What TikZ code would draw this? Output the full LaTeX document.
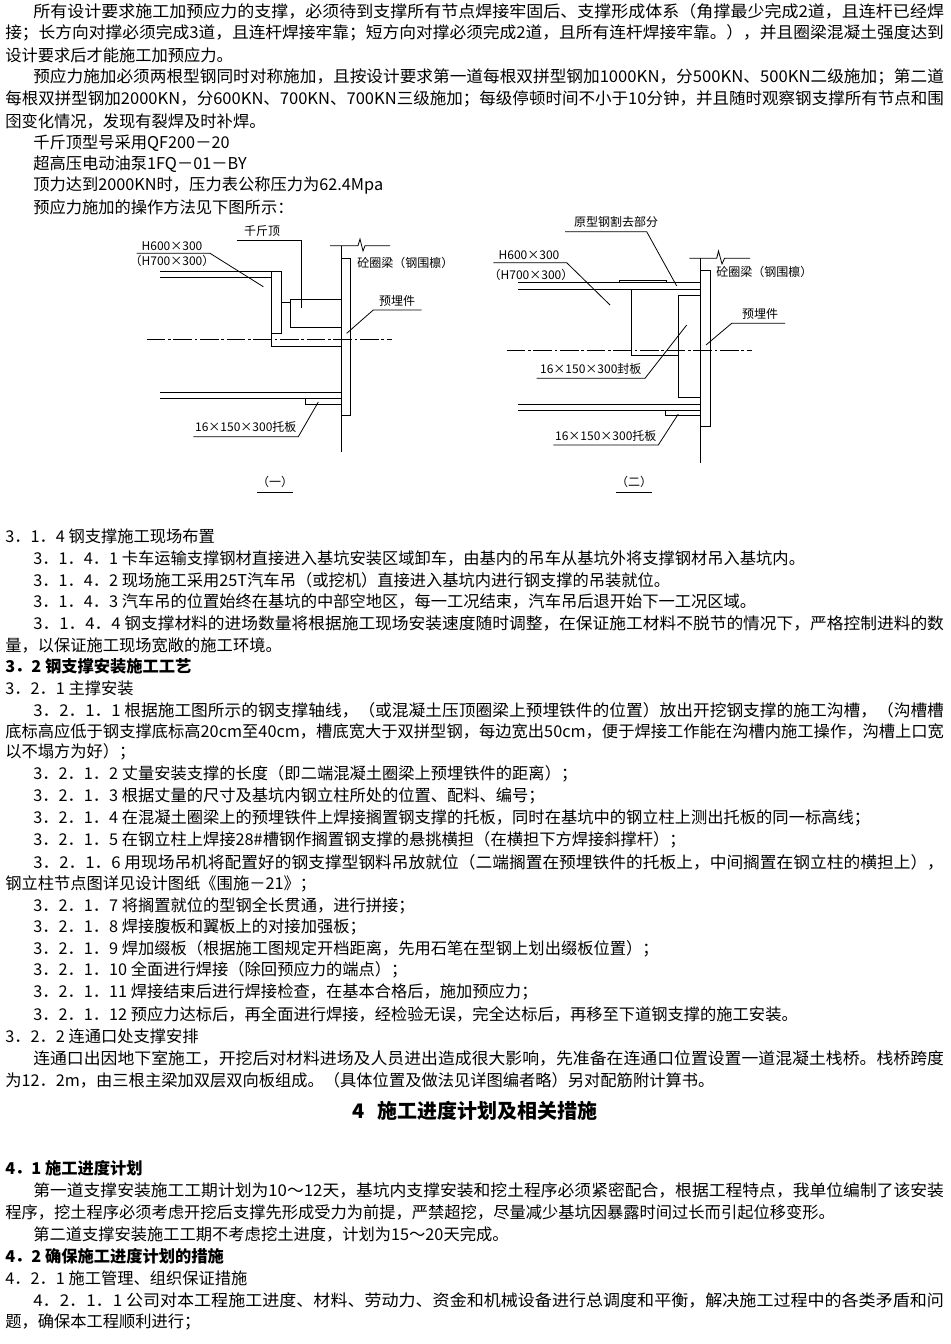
\documentclass[tikz,border=0pt]{standalone}
\usepackage{graphicx}
\usepackage{fontspec}
\setmainfont{Noto Sans CJK SC}
\newcommand{\fla}[1]{\resizebox{683pt}{\height}{#1}}
\newcommand{\flb}[1]{\resizebox{704pt}{\height}{#1}}
\tikzset{
 tx/.style={anchor=west,inner sep=0pt,font=\fontsize{12.2}{14}\selectfont},
 lb/.style={inner sep=0pt,font=\fontsize{9}{10}\selectfont},
 ln/.style={line width=0.6pt},
 cl/.style={line width=0.6pt,dash pattern=on 14pt off 2pt on 2pt off 2pt},
}
\begin{document}
\begin{tikzpicture}[x=0.75pt,y=-0.75pt]
\useasboundingbox (0,0) rectangle (950,1344);
\fill[white] (0,0) rectangle (950,1344);
% ---------- text ----------
\node[tx] (a1) at (33,11) {\fla{所有设计要求施工加预应力的支撑，必须待到支撑所有节点焊接牢固后、支撑形成体系（角撑最少完成2道，且连杆已经焊}};
\node[tx] (a2) at (5,33) {\flb{接；长方向对撑必须完成3道，且连杆焊接牢靠；短方向对撑必须完成2道，且所有连杆焊接牢靠。），并且圈梁混凝土强度达到}};
\node[tx] (a3) at (5,55) {设计要求后才能施工加预应力。};
\node[tx] (a4) at (33,77) {\fla{预应力施加必须两根型钢同时对称施加，且按设计要求第一道每根双拼型钢加1000KN，分500KN、500KN二级施加；第二道}};
\node[tx] (a5) at (5,99) {\flb{每根双拼型钢加2000KN，分600KN、700KN、700KN三级施加；每级停顿时间不小于10分钟，并且随时观察钢支撑所有节点和围}};
\node[tx] (a6) at (5,121) {囹变化情况，发现有裂焊及时补焊。};
\node[tx] (a7) at (33,143) {千斤顶型号采用QF200－20};
\node[tx] (a8) at (33,164) {超高压电动油泵1FQ－01－BY};
\node[tx] (a9) at (33,186) {顶力达到2000KN时，压力表公称压力为62.4Mpa};
\node[tx] (a10) at (33,207) {预应力施加的操作方法见下图所示：};
\node[tx] (b1) at (5,536) {3．1．4 钢支撑施工现场布置};
\node[tx] (b2) at (33,558) {3．1．4．1 卡车运输支撑钢材直接进入基坑安装区域卸车，由基内的吊车从基坑外将支撑钢材吊入基坑内。};
\node[tx] (b3) at (33,580) {3．1．4．2 现场施工采用25T汽车吊（或挖机）直接进入基坑内进行钢支撑的吊装就位。};
\node[tx] (b4) at (33,601) {3．1．4．3 汽车吊的位置始终在基坑的中部空地区，每一工况结束，汽车吊后退开始下一工况区域。};
\node[tx] (b5) at (33,623) {\fla{3．1．4．4 钢支撑材料的进场数量将根据施工现场安装速度随时调整，在保证施工材料不脱节的情况下，严格控制进料的数}};
\node[tx] (b6) at (5,645) {量，以保证施工现场宽敞的施工环境。};
\node[tx,font=\fontsize{12.2}{14}\selectfont\bfseries] (b7) at (5,666) {3．2 钢支撑安装施工工艺};
\node[tx] (b8) at (5,688) {3．2．1 主撑安装};
\node[tx] (b9) at (33,710) {\fla{3．2．1．1 根据施工图所示的钢支撑轴线，（或混凝土压顶圈梁上预埋铁件的位置）放出开挖钢支撑的施工沟槽，（沟槽槽}};
\node[tx] (b10) at (5,731) {\flb{底标高应低于钢支撑底标高20cm至40cm，槽底宽大于双拼型钢，每边宽出50cm，便于焊接工作能在沟槽内施工操作，沟槽上口宽}};
\node[tx] (b11) at (5,752) {以不塌方为好）；};
\node[tx] (b12) at (33,774) {3．2．1．2 丈量安装支撑的长度（即二端混凝土圈梁上预埋铁件的距离）；};
\node[tx] (b13) at (33,796) {3．2．1．3 根据丈量的尺寸及基坑内钢立柱所处的位置、配料、编号；};
\node[tx] (b14) at (33,818) {3．2．1．4 在混凝土圈梁上的预埋铁件上焊接搁置钢支撑的托板，同时在基坑中的钢立柱上测出托板的同一标高线；};
\node[tx] (b15) at (33,840) {3．2．1．5 在钢立柱上焊接28\#槽钢作搁置钢支撑的悬挑横担（在横担下方焊接斜撑杆）；};
\node[tx] (b16) at (33,862) {\fla{3．2．1．6 用现场吊机将配置好的钢支撑型钢料吊放就位（二端搁置在预埋铁件的托板上，中间搁置在钢立柱的横担上），}};
\node[tx] (b17) at (5,884) {钢立柱节点图详见设计图纸《围施－21》；};
\node[tx] (b18) at (33,906) {3．2．1．7 将搁置就位的型钢全长贯通，进行拼接；};
\node[tx] (b19) at (33,927) {3．2．1．8 焊接腹板和翼板上的对接加强板；};
\node[tx] (b20) at (33,949) {3．2．1．9 焊加缀板（根据施工图规定开档距离，先用石笔在型钢上划出缀板位置）；};
\node[tx] (b21) at (33,970) {3．2．1．10 全面进行焊接（除回预应力的端点）；};
\node[tx] (b22) at (33,992) {3．2．1．11 焊接结束后进行焊接检查，在基本合格后，施加预应力；};
\node[tx] (b23) at (33,1014) {3．2．1．12 预应力达标后，再全面进行焊接，经检验无误，完全达标后，再移至下道钢支撑的施工安装。};
\node[tx] (b24) at (5,1036) {3．2．2 连通口处支撑安排};
\node[tx] (b25) at (33,1058) {\fla{连通口出因地下室施工，开挖后对材料进场及人员进出造成很大影响，先准备在连通口位置设置一道混凝土栈桥。栈桥跨度}};
\node[tx] (b26) at (5,1080) {为12．2m，由三根主梁加双层双向板组成。（具体位置及做法见详图编者略）另对配筋附计算书。};
\node[inner sep=0pt,font=\fontsize{15}{18}\selectfont\bfseries] (h4) at (475,1111) {4\hspace{0.6em}施工进度计划及相关措施};
\node[tx,font=\fontsize{12.2}{14}\selectfont\bfseries] (c1) at (5,1168) {4．1 施工进度计划};
\node[tx] (c2) at (33,1190) {\fla{第一道支撑安装施工工期计划为10～12天，基坑内支撑安装和挖土程序必须紧密配合，根据工程特点，我单位编制了该安装}};
\node[tx] (c3) at (5,1212) {程序，挖土程序必须考虑开挖后支撑先形成受力为前提，严禁超挖，尽量减少基坑因暴露时间过长而引起位移变形。};
\node[tx] (c4) at (33,1234) {第二道支撑安装施工工期不考虑挖土进度，计划为15～20天完成。};
\node[tx,font=\fontsize{12.2}{14}\selectfont\bfseries] (c5) at (5,1256) {4．2 确保施工进度计划的措施};
\node[tx] (c6) at (5,1278) {4．2．1 施工管理、组织保证措施};
\node[tx] (c7) at (33,1300) {\fla{4．2．1．1 公司对本工程施工进度、材料、劳动力、资金和机械设备进行总调度和平衡，解决施工过程中的各类矛盾和问}};
\node[tx] (c8) at (5,1322) {题，确保本工程顺利进行；};
% ---------- diagram 1 ----------
\draw[ln] (341.7,245.7) -- (341.7,452);
\draw[ln] (330,245.7) -- (358,245.7) -- (360,239) -- (363,251) -- (365,245.7) -- (390,245.7);
\draw[ln] (341.7,258) rectangle (350,415);
\draw[ln] (160,271.7) -- (281.7,271.7);
\draw[ln] (160,277.7) -- (271.7,277.7);
\draw[ln] (271.7,271.7) rectangle (281.7,333.3);
\draw[ln] (281.7,302.3) -- (290,302.3);
\draw[ln] (290,299) rectangle (341.7,327.3);
\draw[ln] (271.7,333.3) -- (271.7,346) -- (341.7,346);
\draw[cl] (146.7,339) -- (391.7,339);
\draw[ln] (160,392.3) -- (341.7,392.3);
\draw[ln] (160,398.3) -- (341.7,398.3);
\draw[ln] (305,398.3) rectangle (341.7,404);
\coordinate (p1) at (318.3,402);
\draw[ln] (p1) -- (298.3,436.7) -- (193.3,436.7);
\node[lb,anchor=south] (l1) at (245.8,433) {16×150×300托板};
\coordinate (p2) at (263.3,286.7);
\draw[ln] (p2) -- (210,253.3) -- (136.7,253.3);
\node[lb] (l2) at (172,246) {H600×300};
\node[lb] (l3) at (172,261) {（H700×300）};
\coordinate (p3) at (301.7,308.3);
\draw[ln] (p3) -- (301.7,240) -- (236.7,240);
\node[lb,anchor=south] (l4) at (262,237) {千斤顶};
\node[lb,anchor=west] (l5) at (357,263) {砼圈梁（钢围檩）};
\coordinate (p4) at (346.7,333.3);
\draw[ln] (p4) -- (373.3,310) -- (421.7,310);
\node[lb,anchor=south] (l6) at (397,307) {预埋件};
\node[lb] (f1) at (275,482) {（一）};
\draw[ln] (257,492) -- (293,492);
% ---------- diagram 2 ----------
\draw[ln] (700.7,258.3) -- (700.7,463.3);
\draw[ln] (689.3,258.3) -- (716.7,258.3) -- (718.5,251) -- (722,264) -- (724.5,258.3) -- (750,258.3);
\draw[ln] (700.7,270) rectangle (710.7,426.7);
\draw[ln] (518.3,282.7) -- (700.7,282.7);
\draw[ln] (518.3,289) -- (700.7,289);
\draw[ln] (619.3,280) rectangle (666.7,282.7);
\draw[ln] (631.7,289) -- (631.7,355.7) -- (678.3,355.7);
\draw[ln] (678.3,295) rectangle (700.7,397.3);
\draw[cl] (506.7,350) -- (751.7,350);
\draw[ln] (518.3,404) -- (700.7,404);
\draw[ln] (518.3,410) -- (700.7,410);
\draw[ln] (665,410) rectangle (700.7,415.7);
\coordinate (q1) at (678.3,414);
\draw[ln] (q1) -- (658.3,445) -- (553.3,445);
\node[lb,anchor=south] (m1) at (605.8,441.5) {16×150×300托板};
\coordinate (q2) at (686.7,325);
\draw[ln] (q2) -- (645,378.3) -- (536.7,378.3);
\node[lb,anchor=south] (m2) at (590.8,374.5) {16×150×300封板};
\coordinate (q3) at (610,305);
\draw[ln] (q3) -- (566.7,262.7) -- (493.3,262.7);
\node[lb] (m3) at (529,255) {H600×300};
\node[lb] (m4) at (531,275) {（H700×300）};
\coordinate (q4) at (676.7,286);
\draw[ln] (q4) -- (646.7,231.7) -- (565,231.7);
\node[lb,anchor=south] (m5) at (616,228) {原型钢割去部分};
\node[lb,anchor=west] (m6) at (716,272) {砼圈梁（钢围檩）};
\coordinate (q5) at (706,345);
\draw[ln] (q5) -- (731.7,323.3) -- (785,323.3);
\node[lb,anchor=south] (m7) at (760,320) {预埋件};
\node[lb] (f2) at (634,482) {（二）};
\draw[ln] (616,492) -- (652,492);
\end{tikzpicture}
\end{document}
